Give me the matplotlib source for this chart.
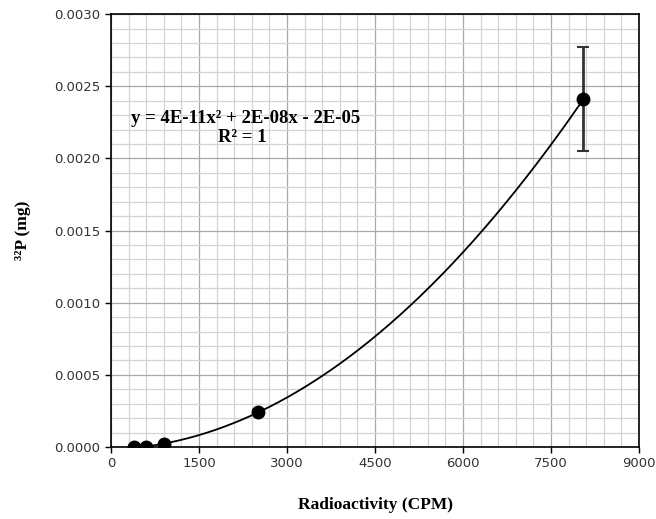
import numpy as np
import matplotlib
matplotlib.use("Agg")
import matplotlib.pyplot as plt
from matplotlib.ticker import MultipleLocator, FormatStrFormatter

# data
cpm = [400, 600, 900, 2500, 8050]
p32_mg = [0.0, 0.0, 0.00002, 0.00024, 0.00241]
p32_err = [0.0, 0.0, 0.0, 0.00002, 0.00036]

x_ticks = [0, 1500, 3000, 4500, 6000, 7500, 9000]
y_ticks = [0.0, 0.0005, 0.0010, 0.0015, 0.0020, 0.0025, 0.0030]

fig = plt.figure(figsize=(6.56, 5.19), dpi=100)
ax = fig.add_axes([0.1692, 0.1387, 0.805, 0.834])

# second order polynomial trendline
coef = np.polyfit(cpm, p32_mg, 2)
xs = np.linspace(min(cpm), max(cpm), 300)
ax.plot(xs, np.polyval(coef, xs), color="black", lw=1.3, zorder=3)

ax.errorbar(cpm, p32_mg, yerr=p32_err, fmt="o", color="black", ms=9,
            ecolor="#333333", elinewidth=2, capsize=4, capthick=1.5, zorder=4)

ax.set_xlim(0, 9000)
ax.set_ylim(0, 0.003)
ax.set_xticks(x_ticks)
ax.set_yticks(y_ticks)
ax.xaxis.set_minor_locator(MultipleLocator(300))
ax.yaxis.set_minor_locator(MultipleLocator(0.0001))
ax.yaxis.set_major_formatter(FormatStrFormatter("%.4f"))

ax.grid(which="minor", color="#d4d4d4", lw=0.9)
ax.grid(which="major", color="#a8a8a8", lw=0.9)
ax.set_axisbelow(True)

ax.tick_params(which="minor", length=0)
ax.tick_params(which="major", length=4, width=1, direction="out",
               labelsize=9.5, labelcolor="#333333")

for s in ax.spines.values():
    s.set_color("black")
    s.set_linewidth(1.2)

serif = "Liberation Serif"
ax.set_xlabel("Radioactivity (CPM)", family=serif, fontweight="bold",
              fontsize=12.5, va="center")
ax.set_ylabel("³²P (mg)", family=serif, fontweight="bold", fontsize=12.5)
ax.xaxis.set_label_coords(0.5, -0.134)
ax.yaxis.set_label_coords(-0.152, 0.5)

ax.text(0.254, 0.758, "y = 4E-11x² + 2E-08x - 2E-05", transform=ax.transAxes,
        ha="center", va="center", family=serif, fontweight="bold", fontsize=13.5)
ax.text(0.248, 0.714, "R² = 1", transform=ax.transAxes,
        ha="center", va="center", family=serif, fontweight="bold", fontsize=13.5)

fig.savefig("out.png", dpi=100)
